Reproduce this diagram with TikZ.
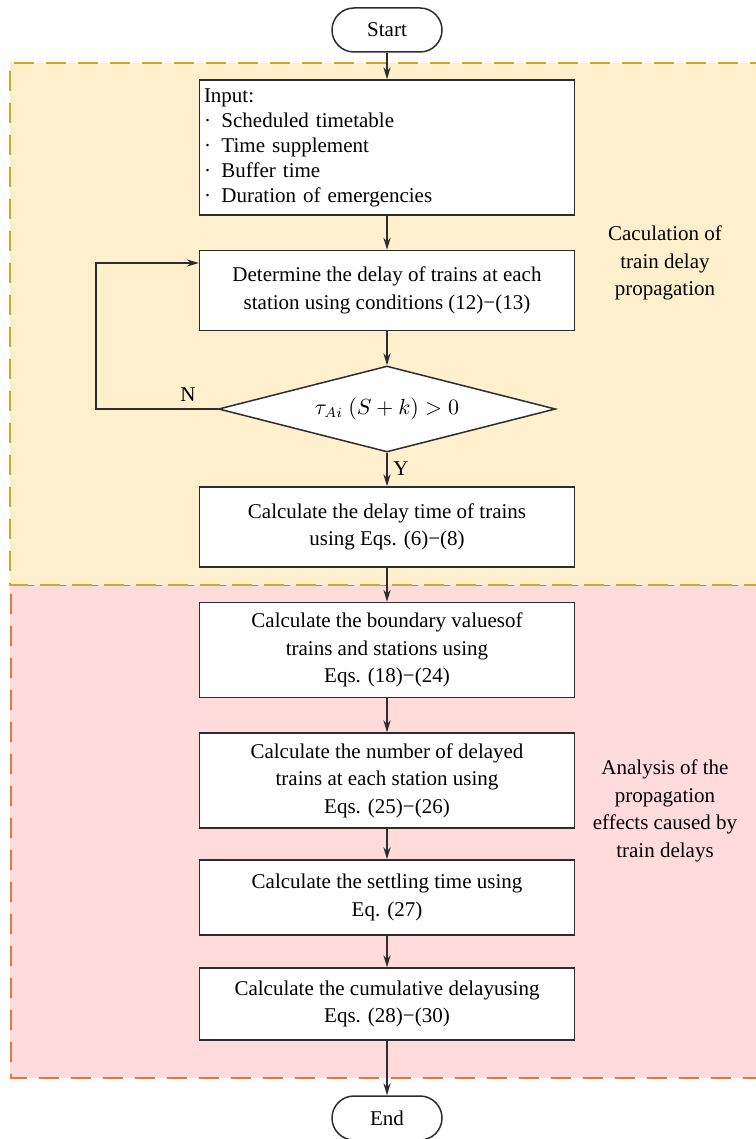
\documentclass[tikz,border=0pt]{standalone}
\usepackage{fontspec}
\setmainfont{Liberation Serif}
\usetikzlibrary{shapes.geometric,arrows.meta}
\definecolor{calcfill}{RGB}{255,240,205}
\definecolor{calcline}{RGB}{212,165,45}
\definecolor{anafill}{RGB}{255,219,219}
\definecolor{analine}{RGB}{228,122,52}
\definecolor{boxline}{RGB}{45,45,45}
\tikzset{
  procbox/.style={draw=boxline,line width=0.75pt,fill=white,minimum width=187.5pt,
    align=center,inner sep=2pt,font=\fontsize{10.5}{13.8}\selectfont},
  termbox/.style={draw=boxline,line width=0.75pt,fill=white,rounded corners=11pt,
    minimum width=55pt,minimum height=22pt,font=\fontsize{10.5}{12.5}\selectfont},
  testbox/.style={draw=boxline,line width=0.75pt,fill=white,diamond,aspect=4,inner sep=0pt,
    minimum width=168.5pt,minimum height=43pt,font=\fontsize{10.5}{12.5}\selectfont},
  flow/.style={draw=boxline,line width=0.6pt,-{Stealth[length=6pt,width=3.6pt]}},
  sidetext/.style={align=center,font=\fontsize{10.5}{13.8}\selectfont},
  region/.style={line width=0.8pt,dash pattern=on 10pt off 6pt}
}
\begin{document}
\begin{tikzpicture}[x=0.5pt,y=-0.5pt]
  \useasboundingbox (0,0) rectangle (755,1139);
  % Regions
  \fill[anafill] (10,585) rectangle (770,1078);
  \draw[region,draw=analine] (770,585) -- (11,585) -- (11,1078) -- (770,1078);
  \fill[calcfill] (10,63) rectangle (770,585);
  \draw[region,draw=calcline] (770,63) -- (10,63) -- (10,585) -- (770,585);
  % Start and input
  \node[termbox] (start) at (387,30) {Start};
  \node[procbox,minimum height=67.5pt,text width=183pt,align=left,inner sep=1.5pt,
    font=\fontsize{10.5}{12.5}\selectfont] (input) at (387,147.5)
    {Input:\\ ·\ \,Scheduled timetable\\ ·\ \,Time supplement\\ ·\ \,Buffer time\\ ·\ \,Duration of emergencies};
  % Delay propagation loop
  \node[procbox,minimum height=40pt] (determine) at (387,290.5)
    {Determine the delay of trains at each\\ station using conditions (12)−(13)};
  \node[testbox] (check) at (387,409) {$\tau_{Ai}\ (S+k)>0$};
  \node[procbox,minimum height=40pt] (delaytime) at (387,527)
    {Calculate the delay time of trains\\ using Eqs. (6)−(8)};
  \coordinate (loop) at (96,263);
  \node[font=\fontsize{10.5}{12.5}\selectfont] (nlabel) at (188,395) {N};
  \node[font=\fontsize{10.5}{12.5}\selectfont] (ylabel) at (401,469) {Y};
  % Propagation effects
  \node[procbox,minimum height=47.5pt] (boundary) at (387,650)
    {Calculate the boundary valuesof\\ trains and stations using\\ Eqs. (18)−(24)};
  \node[procbox,minimum height=47.5pt] (number) at (387,780.5)
    {Calculate the number of delayed\\ trains at each station using\\ Eqs. (25)−(26)};
  \node[procbox,minimum height=37.5pt] (settling) at (387,897.5)
    {Calculate the settling time using\\ Eq. (27)};
  \node[procbox,minimum height=36pt] (cumulative) at (387,1004)
    {Calculate the cumulative delayusing\\ Eqs. (28)−(30)};
  \node[termbox] (end) at (387,1118) {End};
  % Side labels
  \node[sidetext] (calclabel) at (665,263) {Caculation of\\ train delay\\ propagation};
  \node[sidetext] (analabel) at (665,811) {Analysis of the\\ propagation\\ effects caused by\\ train delays};
  % Connectors
  \draw[flow] (start) -- (input);
  \draw[flow] (input) -- (determine);
  \draw[flow] (determine) -- (check);
  \draw[flow] (check.west) -| (loop) -- (loop -| determine.west);
  \draw[flow] (check) -- (delaytime);
  \draw[flow] (delaytime) -- (boundary);
  \draw[flow] (boundary) -- (number);
  \draw[flow] (number) -- (settling);
  \draw[flow] (settling) -- (cumulative);
  \draw[flow] (cumulative) -- (end);
\end{tikzpicture}
\end{document}
